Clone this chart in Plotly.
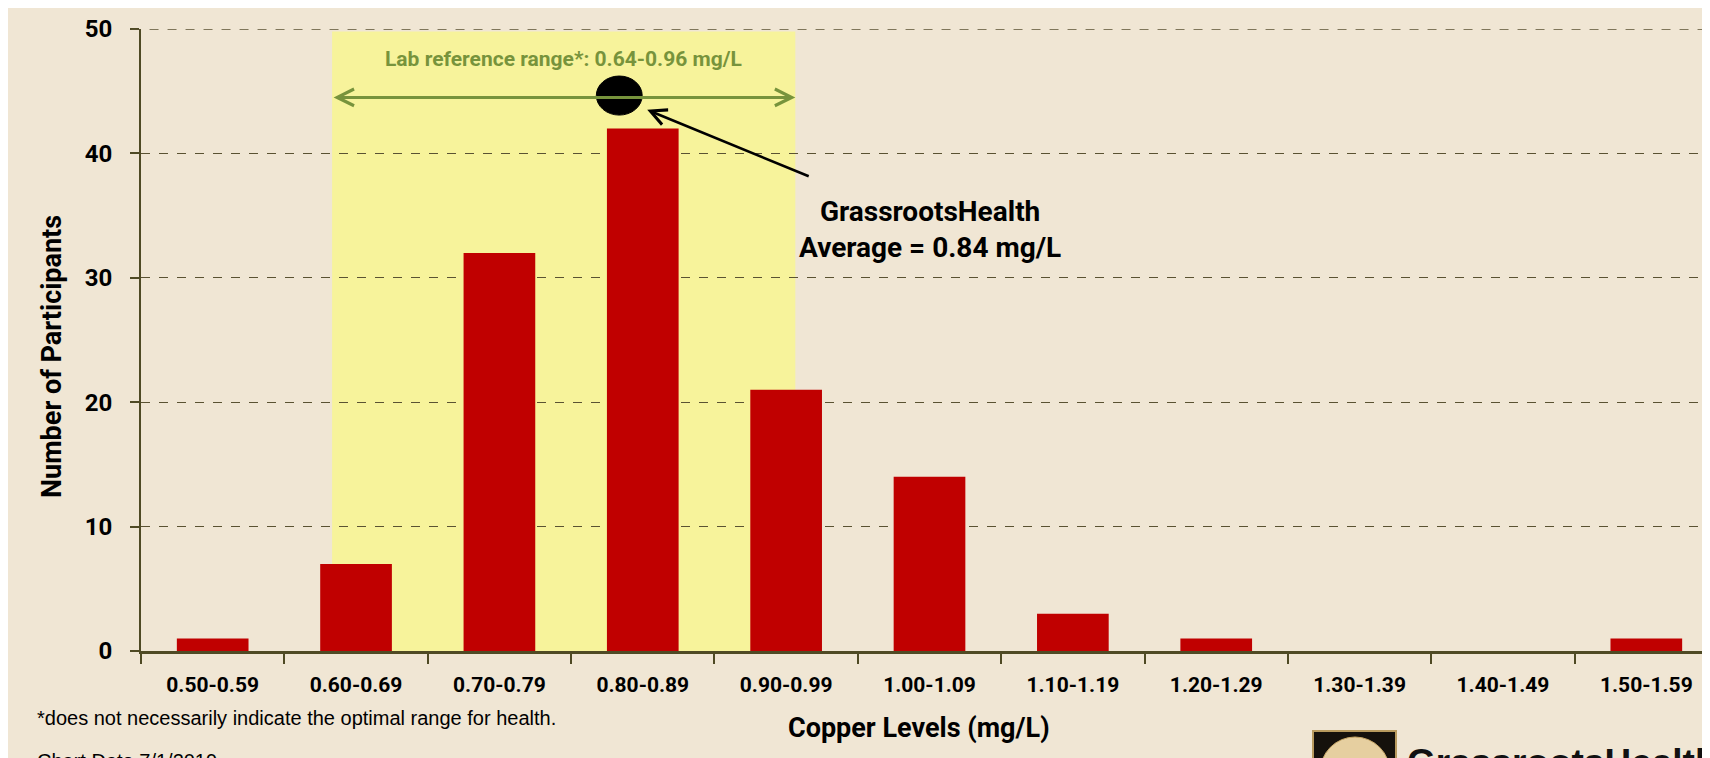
import plotly.graph_objects as go

# ---- data ----
categories = ["0.50-0.59", "0.60-0.69", "0.70-0.79", "0.80-0.89", "0.90-0.99",
              "1.00-1.09", "1.10-1.19", "1.20-1.29", "1.30-1.39", "1.40-1.49", "1.50-1.59"]
participants = [1, 7, 32, 42, 21, 14, 3, 1, 0, 0, 1]
y_ticks = [0, 10, 20, 30, 40, 50]

# ---- styles ----
BG = "#F0E6D4"
YELLOW = "#F7F39B"
GREEN = "#77933C"
RED = "#C00000"
OLIVE = "#4F4A24"
COND = "Roboto, Liberation Sans, Arial, sans-serif"
SANS = "Liberation Sans, Arial, sans-serif"

# reference-range band / annotation positions (category-index units)
band_x0, band_x1, band_top = 0.833, 4.064, 49.8
arrow_y = 44.5
dot_cx, dot_cy, dot_rx, dot_ry = 2.836, 44.65, 0.16, 1.57

fig = go.Figure()
fig.add_trace(go.Bar(
    x=categories, y=participants,
    marker=dict(color=RED, line=dict(width=0)),
    width=0.5,
))

fig.add_shape(type="rect", xref="x", yref="y", x0=band_x0, x1=band_x1, y0=0, y1=band_top,
              fillcolor=YELLOW, line_width=0, layer="below")

# top gridline at 50 (plotly omits grid at the range edge)
fig.add_shape(type="line", xref="paper", yref="y", x0=-0.006, x1=1, y0=50, y1=50,
              line=dict(color="#5A5232", width=1.3, dash="dash"), layer="above")

# black dot (average marker)
fig.add_shape(type="circle", xref="x", yref="y",
              x0=dot_cx - dot_rx, x1=dot_cx + dot_rx, y0=dot_cy - dot_ry, y1=dot_cy + dot_ry,
              fillcolor="black", line=dict(color="black", width=1), layer="above")

# green double arrow
fig.add_annotation(x=band_x1, y=arrow_y, ax=band_x0, ay=arrow_y, xref="x", yref="y",
                   axref="x", ayref="y", text="", showarrow=True, arrowhead=5, startarrowhead=5,
                   arrowside="end+start", arrowsize=1.1, startarrowsize=1.1,
                   arrowwidth=3, arrowcolor=GREEN)

fig.add_annotation(x=(band_x0 + band_x1) / 2, y=47.6, xref="x", yref="y",
                   text="Lab reference range*: 0.64-0.96 mg/L", showarrow=False,
                   font=dict(family=COND, size=21, color=GREEN, weight="bold"))

# black arrow to the dot
fig.add_annotation(x=3.031, y=43.5, xref="x", yref="y", ax=163, ay=67, text="",
                   showarrow=True, arrowhead=5, arrowsize=1.2, arrowwidth=2.6, arrowcolor="black")

fig.add_annotation(x=0.5, y=0.737, xref="paper", yref="paper",
                   text="GrassrootsHealth<br>Average = 0.84 mg/L",
                   showarrow=False, align="center",
                   font=dict(family=COND, size=28, color="black", weight="bold"))

# axis titles
fig.add_annotation(x=-0.068, y=0.474, xref="paper", yref="paper", text="Number of Participants",
                   textangle=-90, showarrow=False,
                   font=dict(family=COND, size=27, color="black", weight="bold"))
fig.add_annotation(x=0.4935, y=-0.153, xref="paper", yref="paper", text="Copper Levels (mg/L)",
                   showarrow=False, font=dict(family=COND, size=27, color="black", weight="bold"))

# footnotes
fig.add_annotation(x=-0.0672, y=-0.129, xref="paper", yref="paper", xanchor="left",
                   text="*does not necessarily indicate the optimal range for health.",
                   showarrow=False, font=dict(family=SANS, size=20, color="black"))
fig.add_annotation(x=-0.0672, y=-0.197, xref="paper", yref="paper", xanchor="left",
                   text="Chart Date 7/1/2019",
                   showarrow=False, font=dict(family=SANS, size=20, color="black"))

# logo (bottom right, cut off)
fig.add_shape(type="rect", xref="paper", yref="paper",
              x0=(1305 - 133) / 1577, x1=(1388 - 133) / 1577, y0=(643 - 800) / 622, y1=(643 - 723) / 622,
              fillcolor="#15110c", line=dict(color="#B89A5E", width=2), layer="above")
fig.add_shape(type="circle", xref="paper", yref="paper",
              x0=(1312 - 133) / 1577, x1=(1382 - 133) / 1577, y0=(643 - 800) / 622, y1=(643 - 729) / 622,
              fillcolor="#E6CFA0", line=dict(color="#C9A868", width=1), layer="above")
fig.add_annotation(x=(1397 - 133) / 1577, y=(643 - 732) / 622, xref="paper", yref="paper",
                   xanchor="left", yanchor="top", text="GrassrootsHealth", showarrow=False,
                   font=dict(family=SANS, size=37, color="#111111", weight="bold"))

fig.update_layout(
    width=1710, height=758, autosize=False,
    paper_bgcolor=BG, plot_bgcolor=BG,
    margin=dict(l=133, r=0, t=21, b=115),
    showlegend=False,
    bargap=0.5,
    xaxis=dict(
        type="category", categoryorder="array", categoryarray=categories,
        range=[-0.5, 10.5],
        showline=True, linecolor=OLIVE, linewidth=3,
        ticks="outside", tickson="boundaries", ticklen=10, tickwidth=1.5, tickcolor=OLIVE,
        showgrid=False, zeroline=False,
        tickfont=dict(family=COND, size=21, color="black", weight="bold"),
        ticklabelstandoff=13,
    ),
    yaxis=dict(
        range=[0, 50], tickvals=y_ticks,
        showline=True, linecolor=OLIVE, linewidth=2,
        ticks="outside", ticklen=9, tickwidth=1.5, tickcolor=OLIVE,
        showgrid=True, gridcolor="#5A5232", gridwidth=1.3, griddash="dash",
        zeroline=False,
        tickfont=dict(family=COND, size=24, color="black", weight="bold"),
        ticklabelstandoff=13,
    ),
)

fig.write_html("out.html", config={"displayModeBar": False})
